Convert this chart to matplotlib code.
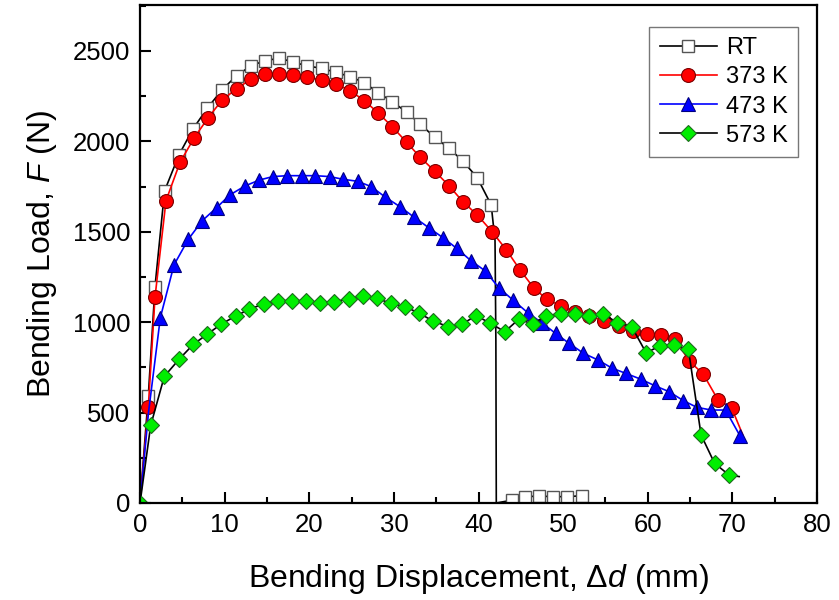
import numpy as np
import matplotlib.pyplot as plt
from matplotlib.ticker import MultipleLocator

plt.rcParams['font.family'] = ['Liberation Sans', 'DejaVu Sans']
plt.rcParams['mathtext.fontset'] = 'custom'
plt.rcParams['mathtext.rm'] = 'Liberation Sans'
plt.rcParams['mathtext.it'] = 'Liberation Sans:italic'

# displacement (mm) / load (N) for each test temperature
rt_x = [0, 0.98, 1.77, 2.9, 4.6, 6.25, 7.95, 9.68, 11.4, 13.1,
        14.75, 16.45, 18.1, 19.7, 21.45, 23.1, 24.8, 26.5, 28.1, 29.8,
        31.5, 33.1, 34.8, 36.5, 38.15, 39.85, 41.5, 41.95, 42.05, 42.1,
        43.9, 45.5, 47.2, 48.85, 50.5, 52.2]
rt_y = [0, 593, 1197, 1726, 1925, 2068, 2183, 2284, 2363, 2417,
        2446, 2459, 2439, 2417, 2404, 2382, 2358, 2325, 2270, 2220,
        2161, 2096, 2023, 1962, 1891, 1799, 1648, 1450, 900, 0,
        15, 35, 38, 35, 35, 40]

k373_x = [0, 0.98, 1.77, 3.07, 4.72, 6.37, 8.06, 9.71, 11.4, 13.1,
          14.75, 16.45, 18.1, 19.7, 21.45, 23.1, 24.8, 26.5, 28.1, 29.8,
          31.5, 33.1, 34.8, 36.5, 38.15, 39.85, 41.6, 43.3, 44.9, 46.5,
          48.05, 49.75, 51.45, 53.1, 54.87, 56.55, 58.2, 59.86, 61.56, 63.25,
          64.9, 66.55, 68.3, 69.9, 71.2]
k373_y = [0, 532, 1138, 1672, 1883, 2017, 2131, 2229, 2290, 2344,
          2371, 2373, 2367, 2355, 2340, 2318, 2281, 2225, 2159, 2081,
          1995, 1912, 1836, 1755, 1666, 1593, 1500, 1399, 1289, 1191,
          1127, 1090, 1056, 1032, 1008, 979, 953, 935, 929, 905,
          785, 713, 570, 527, 380]

k473_x = [0, 1.0, 2.4, 4.01, 5.7, 7.35, 9.05, 10.6, 12.4, 14.1,
          15.7, 17.4, 19.1, 20.7, 22.4, 24.0, 25.7, 27.3, 29.0, 30.7,
          32.4, 34.1, 35.8, 37.4, 39.1, 40.8, 42.4, 44.05, 45.8, 47.55,
          49.1, 50.7, 52.4, 54.1, 55.8, 57.4, 59.2, 60.9, 62.5, 64.2,
          65.8, 67.5, 69.2, 70.9]
k473_y = [0, 500, 1025, 1316, 1458, 1561, 1633, 1703, 1753, 1786,
          1805, 1810, 1810, 1810, 1805, 1790, 1779, 1750, 1691, 1639,
          1580, 1523, 1467, 1409, 1340, 1283, 1190, 1123, 1053, 994,
          938, 883, 828, 791, 745, 717, 684, 647, 616, 566,
          529, 514, 514, 371]

k573_x = [0, 1.26, 2.87, 4.64, 6.29, 7.94, 9.56, 11.3, 12.9, 14.6,
          16.3, 18.0, 19.6, 21.3, 22.9, 24.7, 26.3, 28.0, 29.6, 31.3,
          33.0, 34.6, 36.4, 38.1, 39.7, 41.4, 43.1, 44.75, 46.4, 48.0,
          49.75, 51.45, 53.1, 54.75, 56.4, 58.1, 59.8, 61.45, 63.1, 64.8,
          66.3, 67.9, 69.6, 70.8]
k573_y = [0, 429, 700, 796, 877, 933, 988, 1034, 1071, 1101,
          1119, 1119, 1119, 1108, 1114, 1128, 1145, 1132, 1104, 1086,
          1049, 1007, 975, 990, 1036, 994, 947, 1016, 990, 1036,
          1047, 1047, 1034, 1045, 997, 975, 831, 868, 874, 850,
          376, 219, 155, 146]


def marked(n, skip):
    return [i for i in range(n) if i not in skip]


fig = plt.figure(figsize=(8.39, 6.0), dpi=100)
ax = fig.add_axes([0.1669, 0.1617, 0.8069, 0.830])

ax.plot(rt_x, rt_y, color='black', lw=1.2, marker='s', ms=9,
        mfc='white', mec='#555555', mew=1.0,
        markevery=marked(len(rt_x), {0, 27, 28, 29}), label='RT')
ax.plot(k373_x, k373_y, color='red', lw=1.2, marker='o', ms=10,
        mfc='red', mec='#7a0000', mew=0.8,
        markevery=marked(len(k373_x), {0, len(k373_x) - 1}), label='373 K')
ax.plot(k473_x, k473_y, color='blue', lw=1.2, marker='^', ms=10.5,
        mfc='blue', mec='#000080', mew=0.8,
        markevery=marked(len(k473_x), {0, 1}), label='473 K')
ax.plot(k573_x, k573_y, color='black', lw=1.2, marker='D', ms=8.5,
        mfc='#00ee00', mec='#1d6b1d', mew=0.8,
        markevery=marked(len(k573_x), {len(k573_x) - 1}), label='573 K')

ax.set_xlim(0, 80)
ax.set_ylim(0, 2754)
ax.xaxis.set_major_locator(MultipleLocator(10))
ax.xaxis.set_minor_locator(MultipleLocator(5))
ax.yaxis.set_major_locator(MultipleLocator(500))
ax.yaxis.set_minor_locator(MultipleLocator(250))
ax.tick_params(which='both', direction='in', top=False, right=False,
               labelsize=18.5, width=1.5)
ax.tick_params(which='major', length=8, pad=7)
ax.tick_params(which='minor', length=4)
for s in ax.spines.values():
    s.set_linewidth(1.6)

ax.set_xlabel(r'Bending Displacement, $\mathit{\Delta d}$ (mm)', fontsize=23, labelpad=18)
ax.set_ylabel(r'Bending Load, $\mathit{F}$ (N)', fontsize=23, labelpad=10)

leg = ax.legend(loc='upper right', fontsize=17, frameon=True, fancybox=False,
                edgecolor='#555555', handlelength=2.4, borderpad=0.45,
                labelspacing=0.3, handletextpad=0.4,
                bbox_to_anchor=(0.99, 0.98))
leg.get_frame().set_linewidth(1.0)

fig.savefig('out.png', dpi=100)
